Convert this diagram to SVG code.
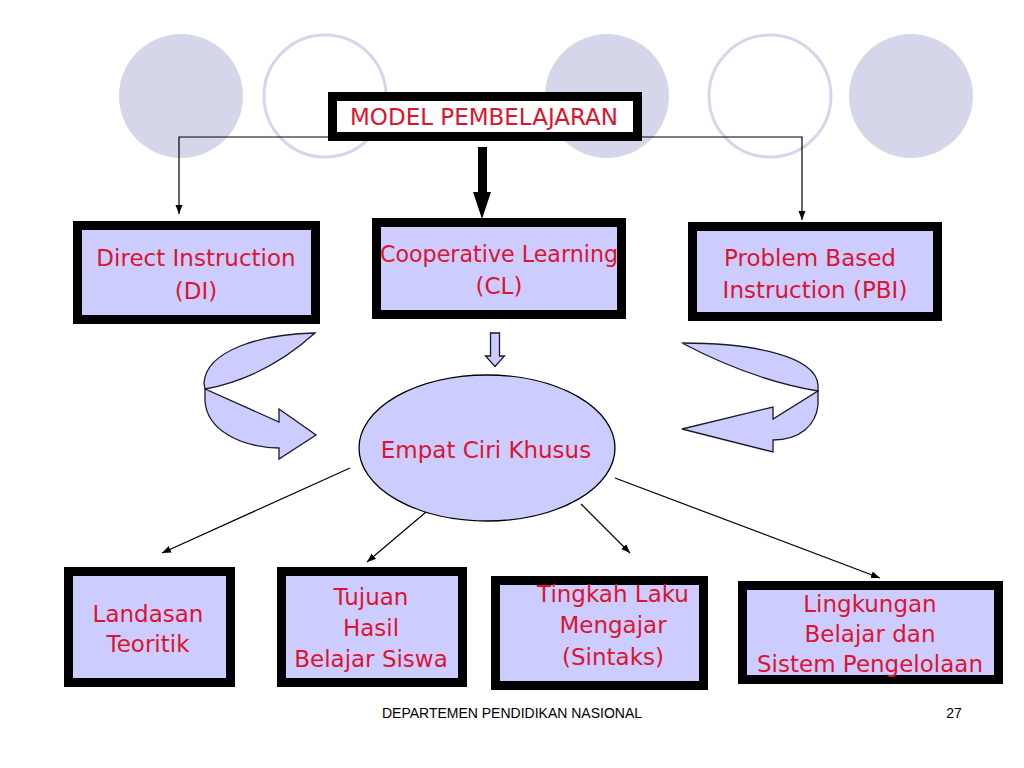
<svg xmlns="http://www.w3.org/2000/svg" width="1024" height="768" viewBox="0 0 1024 768">
<defs>
<style>
.bg{fill:#d6d6ea}
.ring{fill:none;stroke:#d6d6ea;stroke-width:3}
.box{fill:#ccccff;stroke:#000;stroke-width:9}
.lbl{font-family:"DejaVu Sans",Verdana,sans-serif;font-size:23px;fill:#dd1430;text-anchor:middle}
.con{fill:none;stroke:#000;stroke-width:1.2}
.shape{fill:#ccccff;stroke:#1a1a2a;stroke-width:1.3;stroke-linejoin:miter}
.foot{font-family:"Liberation Sans",Arial,sans-serif;font-size:14px;fill:#000}
</style>
<marker id="ah" markerUnits="userSpaceOnUse" markerWidth="10" markerHeight="8" refX="9" refY="3.5" orient="auto">
<path d="M0,0 L9,3.5 L0,7 z" fill="#000"/>
</marker>
</defs>
<rect width="1024" height="768" fill="#fff"/>
<g id="background">
<circle class="bg" cx="181" cy="96" r="62"/>
<circle class="ring" cx="325" cy="96" r="61"/>
<circle class="bg" cx="607" cy="96" r="62"/>
<circle class="ring" cx="770" cy="96" r="61"/>
<circle class="bg" cx="911" cy="96" r="62"/>
</g>
<g id="connectors">
<polyline class="con" points="330,137 179,137 179,214" marker-end="url(#ah)"/>
<polyline class="con" points="640,137 802,137 802,220" marker-end="url(#ah)"/>
<polygon points="478,147 487,147 487,192 491,192 482,219 473,192 478,192" fill="#000"/>
<polygon class="shape" points="490.5,333 499.5,333 499.5,356 504.5,356 495,366.5 485.5,356 490.5,356"/>
<line class="con" x1="350" y1="468" x2="162" y2="553" marker-end="url(#ah)"/>
<line class="con" x1="426" y1="512" x2="367" y2="562" marker-end="url(#ah)"/>
<line class="con" x1="581" y1="504" x2="630" y2="553" marker-end="url(#ah)"/>
<line class="con" x1="615" y1="478" x2="880" y2="578" marker-end="url(#ah)"/>
</g>
<g id="curve-left">
<path class="shape" d="M315,333 C262,334 206,350 204,383 L205,389 Q265,378 315,333 Z"/>
<path class="shape" d="M205,389 L205,401 C207,430 240,447 279,448 L279,459 L316,435 L279,409 L279,422 L205,389 Z"/>
</g>
<g id="curve-right">
<path class="shape" d="M682,343 C752,343 816,356 818,385 L818,391 Q752,380 682,343 Z"/>
<path class="shape" d="M818,391 L818,405 C816,425 800,440 773,440 L773,452 L682,429 L773,407 L773,419 L818,391 Z"/>
</g>
<g id="model">
<rect x="332.5" y="96.5" width="305" height="40" fill="#fff" stroke="#000" stroke-width="9"/>
<text class="lbl" x="484" y="125">MODEL PEMBELAJARAN</text>
</g>
<g id="di">
<rect class="box" x="77.5" y="225.5" width="238" height="94"/>
<text class="lbl" x="196" y="266">Direct Instruction</text>
<text class="lbl" x="196" y="299">(DI)</text>
</g>
<g id="cl">
<rect class="box" x="376.5" y="222.5" width="245" height="92"/>
<text class="lbl" x="499" y="262" style="font-size:22.2px">Cooperative Learning</text>
<text class="lbl" x="499" y="294">(CL)</text>
</g>
<g id="pbi">
<rect class="box" x="692.5" y="226.5" width="245" height="90"/>
<text class="lbl" x="810" y="266">Problem Based</text>
<text class="lbl" x="815" y="298">Instruction (PBI)</text>
</g>
<g id="empat">
<ellipse cx="487" cy="448" rx="128" ry="73" fill="#ccccff" stroke="#000" stroke-width="1.3"/>
<text class="lbl" x="486" y="458">Empat Ciri Khusus</text>
</g>
<g id="landasan">
<rect class="box" x="68.5" y="571.5" width="162" height="111"/>
<text class="lbl" x="148" y="622">Landasan</text>
<text class="lbl" x="148" y="652">Teoritik</text>
</g>
<g id="tujuan">
<rect class="box" x="281.5" y="571.5" width="181" height="111"/>
<text class="lbl" x="371" y="605">Tujuan</text>
<text class="lbl" x="371" y="636">Hasil</text>
<text class="lbl" x="371" y="667">Belajar Siswa</text>
</g>
<g id="tingkah">
<rect class="box" x="495.5" y="580.5" width="208" height="105"/>
<text class="lbl" x="613" y="602">Tingkah Laku</text>
<text class="lbl" x="613" y="633">Mengajar</text>
<text class="lbl" x="613" y="665">(Sintaks)</text>
</g>
<g id="lingkungan">
<rect class="box" x="742.5" y="585.5" width="256" height="94"/>
<text class="lbl" x="870" y="612">Lingkungan</text>
<text class="lbl" x="870" y="642">Belajar dan</text>
<text class="lbl" x="870" y="672">Sistem Pengelolaan</text>
</g>
<g id="footer">
<text class="foot" x="512" y="718" text-anchor="middle">DEPARTEMEN PENDIDIKAN NASIONAL</text>
<text class="foot" x="954" y="718" text-anchor="middle">27</text>
</g>
</svg>
